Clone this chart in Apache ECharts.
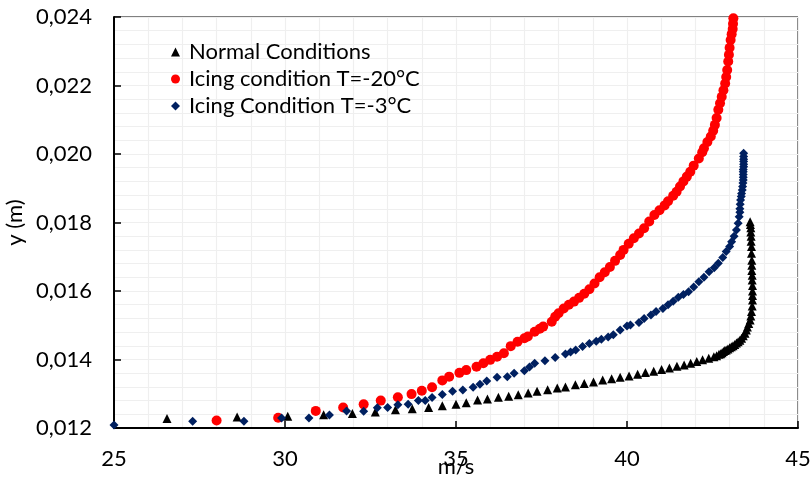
<!DOCTYPE html>
<html>
<head>
<meta charset="UTF-8">
<title>Velocity profile</title>
<style>
  body{margin:0;padding:0;background:#fff;}
  #chart{width:811px;height:486px;}
</style>
</head>
<body>
<div id="chart"></div>
<script src="https://cdn.jsdelivr.net/npm/echarts@6/dist/echarts.min.js"></script>
<script>
// [velocity m/s, y m]
var normalPts = [
  [26.55,0.01228],[28.6,0.01232],[30.08,0.01234],[31.13,0.01239],[31.97,0.01242],[32.64,0.01247],
  [33.23,0.01253],[33.72,0.01256],[34.2,0.0126],[34.6,0.01265],[35.0,0.01269],[35.3,0.01274],
  [35.63,0.01282],[35.92,0.01285],[36.24,0.0129],[36.54,0.01293],[36.82,0.01297],[37.11,0.01302],
  [37.37,0.01307],[37.68,0.01312],[37.96,0.01317],[38.2,0.0132],[38.49,0.01326],[38.75,0.0133],
  [39.02,0.01334],[39.29,0.0134],[39.55,0.01344],[39.8,0.01348],[40.06,0.01352],[40.31,0.01357],
  [40.54,0.01362],[40.78,0.01366],[41.01,0.01371],[41.24,0.01375],[41.46,0.0138],[41.67,0.01384],
  [41.86,0.01389],[42.04,0.01394],[42.21,0.01399],[42.39,0.01404],[42.54,0.01408],[42.62,0.01411],
  [42.69,0.01415],[42.74,0.01417],[42.78,0.0142],[42.82,0.01423],[42.86,0.01426],[42.9,0.01428],
  [42.95,0.01431],[43.0,0.01434],[43.05,0.01437],[43.1,0.0144],[43.15,0.01444],[43.2,0.01448],
  [43.25,0.01452],[43.3,0.01456],[43.35,0.01462],[43.4,0.01469],[43.45,0.01477],[43.49,0.01486],
  [43.52,0.01495],[43.56,0.01505],[43.6,0.01515],[43.62,0.01527],[43.64,0.0154],[43.66,0.01556],
  [43.67,0.01574],[43.67,0.01587],[43.67,0.016],[43.67,0.01616],[43.66,0.01632],[43.66,0.01646],
  [43.65,0.0166],[43.65,0.01675],[43.65,0.0169],[43.64,0.0171],[43.64,0.0173],[43.63,0.01745],
  [43.63,0.0176],[43.62,0.01772],[43.62,0.01785],[43.61,0.01794],[43.6,0.01802]
];
var icing20Pts = [
  [28.0,0.01222],[29.8,0.0123],[30.9,0.0125],[31.7,0.0126],[32.3,0.01269],[32.8,0.0128],
  [33.3,0.0129],[33.7,0.01299],[34.0,0.01309],[34.3,0.01319],[34.6,0.01339],[34.8,0.0135],
  [35.1,0.01361],[35.3,0.01369],[35.6,0.01379],[35.8,0.01389],[36.0,0.01399],[36.2,0.01408],
  [36.4,0.01418],[36.6,0.01439],[36.8,0.01452],[37.0,0.01462],[37.1,0.01467],[37.3,0.01481],
  [37.45,0.0149],[37.55,0.01496],[37.8,0.0151],[37.9,0.01525],[38.0,0.01535],[38.15,0.01549],
  [38.3,0.0156],[38.45,0.01569],[38.6,0.0158],[38.75,0.01592],[38.9,0.01605],[39.05,0.01622],
  [39.2,0.0164],[39.35,0.01655],[39.5,0.0167],[39.65,0.01688],[39.8,0.01705],[39.9,0.0172],
  [40.05,0.01738],[40.2,0.01754],[40.35,0.01768],[40.5,0.01783],[40.65,0.01803],[40.8,0.01822],
  [40.95,0.01836],[41.1,0.0185],[41.2,0.01862],[41.35,0.01878],[41.45,0.0189],[41.55,0.01905],
  [41.65,0.0192],[41.75,0.01934],[41.85,0.01948],[41.95,0.01966],[42.1,0.01987],[42.2,0.02005],
  [42.25,0.02017],[42.35,0.02035],[42.45,0.02051],[42.52,0.02068],[42.57,0.02085],[42.62,0.02105],
  [42.67,0.02129],[42.72,0.02148],[42.77,0.02167],[42.82,0.02186],[42.87,0.02206],[42.9,0.02225],
  [42.93,0.02245],[42.96,0.0227],[42.98,0.0229],[43.0,0.0231],[43.03,0.02333],[43.06,0.0235],
  [43.09,0.02365],[43.1,0.0238],[43.11,0.02396]
];
var icing3Pts = [
  [25.0,0.01209],[27.3,0.0122],[28.8,0.0122],[29.9,0.01229],[30.7,0.01229],[31.3,0.01238],
  [31.8,0.0125],[32.3,0.01249],[32.7,0.01259],[33.0,0.0126],[33.3,0.01268],[33.6,0.01269],
  [33.9,0.0128],[34.1,0.0128],[34.3,0.01289],[34.6,0.01298],[34.9,0.01307],[35.2,0.01311],
  [35.5,0.01319],[35.7,0.01328],[35.9,0.01337],[36.2,0.01348],[36.5,0.0135],[36.7,0.0136],
  [37.0,0.01367],[37.15,0.01378],[37.3,0.01389],[37.6,0.01396],[37.9,0.01406],[38.2,0.01416],
  [38.35,0.01422],[38.5,0.01428],[38.7,0.01438],[38.9,0.01447],[39.1,0.01453],[39.25,0.01459],
  [39.45,0.01466],[39.6,0.01472],[39.8,0.01486],[40.0,0.01498],[40.1,0.01501],[40.35,0.01508],
  [40.5,0.0152],[40.7,0.0153],[40.85,0.0154],[41.05,0.01549],[41.2,0.0156],[41.35,0.0157],
  [41.5,0.01582],[41.65,0.0159],[41.8,0.01598],[41.95,0.01612],[42.1,0.01627],[42.25,0.0164],
  [42.4,0.01656],[42.55,0.01668],[42.67,0.01681],[42.8,0.01698],[42.9,0.01715],[43.0,0.0173],
  [43.06,0.01744],[43.13,0.0176],[43.2,0.01778],[43.25,0.01798],[43.28,0.01817],[43.3,0.0183],
  [43.3,0.0184],[43.31,0.01853],[43.32,0.01866],[43.34,0.01876],[43.35,0.01885],[43.37,0.01895],
  [43.38,0.01905],[43.39,0.01915],[43.4,0.01924],[43.4,0.01932],[43.4,0.0194],[43.4,0.01948],
  [43.4,0.01955],[43.41,0.01963],[43.41,0.0197],[43.41,0.01978],[43.41,0.01985],[43.41,0.01993],
  [43.41,0.02002]
];
var seriesNames = ['Normal Conditions', 'Icing condition T=-20°C', 'Icing Condition T=-3°C'];

var font = 'Lato, "Open Sans", sans-serif';
var chart = echarts.init(document.getElementById('chart'));

var gridLine = {show: true, lineStyle: {color: '#efefef', width: 1.2}};

chart.setOption({
  animation: false,
  textStyle: {fontFamily: font},
  grid: {
    left: 114, right: 13, top: 17, bottom: 58, outerBoundsMode: 'none', containLabel: false,
    show: true, borderColor: '#000', borderWidth: 1
  },
  legend: {
    orient: 'vertical', left: 166, top: 36, itemGap: 5,
    itemWidth: 9, itemHeight: 9,
    textStyle: {fontSize: 22, color: '#000', fontFamily: font, padding: [0, 0, 0, 4]},
    data: [
      {name: seriesNames[0], icon: 'triangle', itemStyle: {color: '#000'}},
      {name: seriesNames[1], icon: 'circle'},
      {name: seriesNames[2], icon: 'diamond'}
    ]
  },
  xAxis: {
    type: 'value', min: 25, max: 45, interval: 5,
    name: 'm/s', nameLocation: 'middle', nameGap: 28, nameMoveOverlap: false,
    nameTextStyle: {fontSize: 22, color: '#000', fontFamily: font},
    axisLine: {show: true, lineStyle: {color: '#000', width: 2}},
    axisTick: {show: true, inside: true, length: 7, lineStyle: {color: '#000', width: 1.5}},
    axisLabel: {fontSize: 22, color: '#000', margin: 20, fontFamily: font},
    splitLine: gridLine,
    minorTick: {show: false, splitNumber: 5},
    minorSplitLine: gridLine
  },
  yAxis: {
    type: 'value', min: 0.012, max: 0.024, interval: 0.002,
    name: 'y (m)', nameLocation: 'middle', nameGap: 88, nameMoveOverlap: false,
    nameTextStyle: {fontSize: 22, color: '#000', fontFamily: font},
    axisLine: {show: true, lineStyle: {color: '#000', width: 2}},
    axisTick: {show: true, inside: true, length: 7, lineStyle: {color: '#000', width: 1.5}},
    axisLabel: {
      fontSize: 22, color: '#000', margin: 22, fontFamily: font,
      formatter: function (v) { return v.toFixed(3).replace('.', ','); }
    },
    splitLine: gridLine,
    minorTick: {show: false, splitNumber: 5},
    minorSplitLine: gridLine
  },
  series: [
    {
      name: seriesNames[0], type: 'scatter', data: normalPts,
      symbol: 'triangle', symbolSize: 9, itemStyle: {color: '#000', opacity: 1}, z: 3
    },
    {
      name: seriesNames[1], type: 'scatter', data: icing20Pts,
      symbol: 'circle', symbolSize: 10, itemStyle: {color: '#ff0000', opacity: 1}, z: 2
    },
    {
      name: seriesNames[2], type: 'scatter', data: icing3Pts,
      symbol: 'diamond', symbolSize: 9, itemStyle: {color: '#002060', opacity: 1}, z: 4
    }
  ]
});
</script>
</body>
</html>
